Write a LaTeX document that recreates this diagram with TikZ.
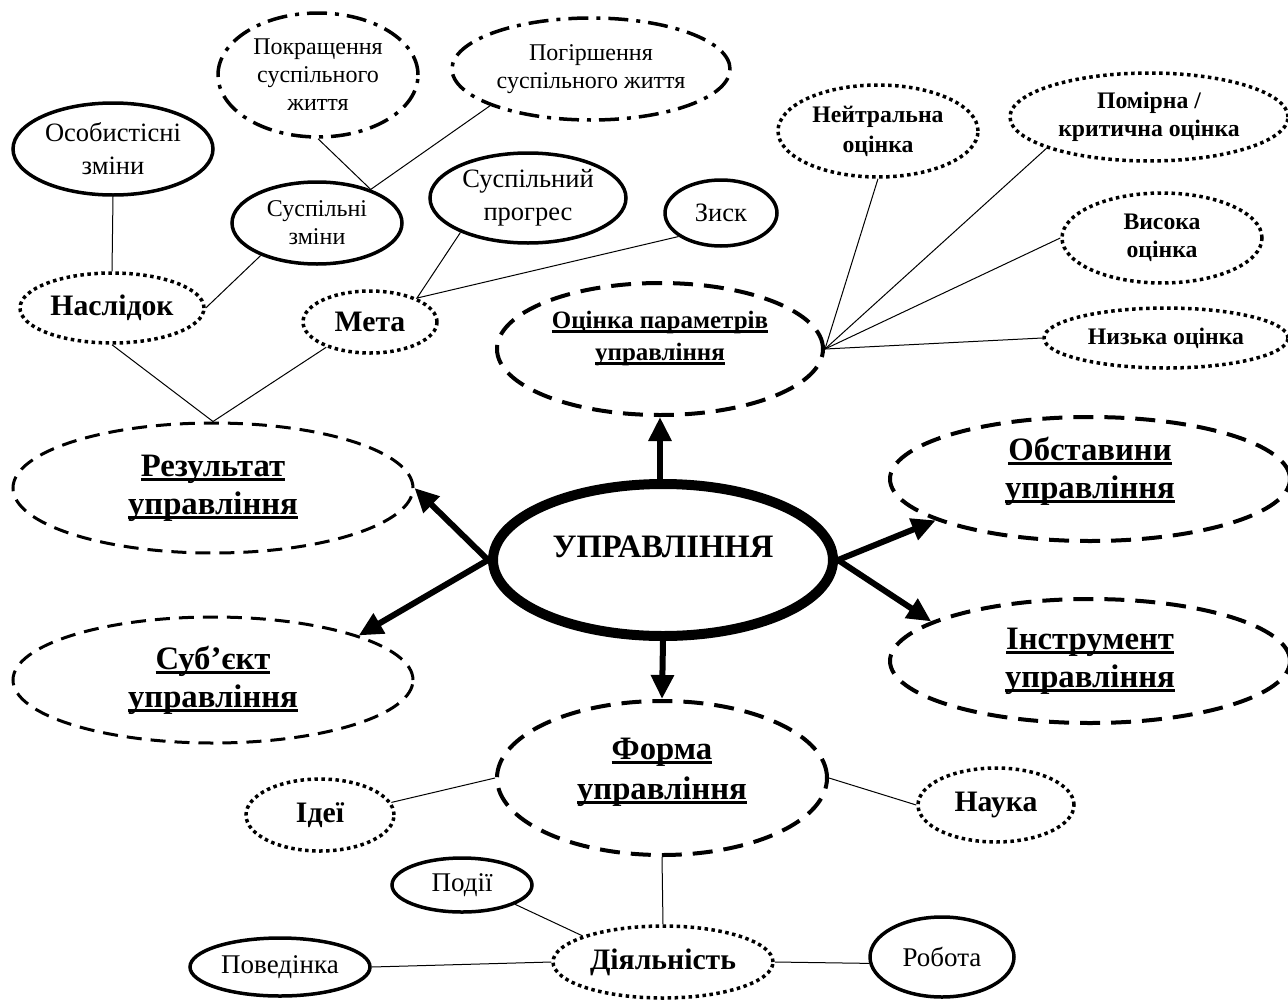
\documentclass[tikz,border=0pt]{standalone}
\usepackage{fontspec}
\setmainfont{Liberation Serif}
\usetikzlibrary{shapes.geometric,arrows.meta}

% thick underline that runs through the descenders
\newcommand\undl[1]{\leavevmode\setbox0\hbox{#1}\rlap{\rule[-0.16em]{\wd0}{0.1em}}\box0}

\tikzset{
  oval/.style={ellipse, draw, inner sep=0pt, align=center},
  sz/.style 2 args={minimum width=#1pt, minimum height=#2pt},
  solidoval/.style={oval, line width=3.5pt},
  dotoval/.style={oval, line width=3.5pt, dash pattern=on 3.5pt off 3.5pt},
  dashdotoval/.style={oval, line width=3.5pt, dash pattern=on 20pt off 8pt on 4pt off 8pt},
  dashoval/.style={oval, line width=3pt, dash pattern=on 15pt off 9pt},
  heavydash/.style={oval, line width=4pt, dash pattern=on 20pt off 11pt},
  coreoval/.style={oval, line width=10pt},
  regsmall/.style={font=\fontsize{24}{28}\selectfont},
  reg/.style={font=\fontsize{26.5}{33}\selectfont},
  regbottom/.style={font=\fontsize{27}{33}\selectfont},
  boldmid/.style={font=\fontsize{29.7}{36}\selectfont\bfseries},
  boldsmall/.style={font=\fontsize{23.7}{28}\selectfont\bfseries},
  boldbig/.style={font=\fontsize{32.7}{38}\selectfont\bfseries},
  lbl/.style={align=center},
  arr/.style={line width=6pt, -{Triangle[length=24pt,width=22pt]}},
  conn/.style={line width=1pt},
}

\begin{document}
\begin{tikzpicture}[x=1pt,y=-1pt]
\useasboundingbox (0,0) rectangle (1288,999);

% core and main branches
\node[coreoval, sz={340}{152}, label={[lbl, boldbig, yshift=13pt]center:УПРАВЛІННЯ}] (c) at (663,560) {};
\node[heavydash, sz={326}{132}, label={[lbl, font=\fontsize{25}{32}\selectfont\bfseries, yshift=10pt]center:\undl{Оцінка параметрів}\\\undl{управління}}] (ocinka) at (660,349) {};
\node[dashoval, sz={400}{130}, boldbig] (res) at (213,488) {\undl{Результат}\\\undl{управління}};
\node[dashoval, sz={400}{126}, boldbig] (subj) at (213,680) {\undl{Суб’єкт}\\\undl{управління}};
\node[heavydash, sz={400}{124}, label={[lbl, boldbig, yshift=8pt]center:\undl{Обставини}\\\undl{управління}}] (obst) at (1090,479) {};
\node[heavydash, sz={400}{124}, boldbig] (instr) at (1090,661) {\undl{Інструмент}\\\undl{управління}};
\node[heavydash, sz={330}{154}, label={[lbl, font=\fontsize{32.7}{40}\selectfont\bfseries, yshift=6pt]center:\undl{Форма}\\\undl{управління}}] (forma) at (662,778) {};

% form branch
\node[dotoval, sz={148}{72}, boldmid] (ideji) at (320,815) {Ідеї};
\node[dotoval, sz={156}{74}, boldmid] (nauka) at (996,805) {Наука};
\node[dotoval, sz={220}{72}, boldmid] (dij) at (663,962) {Діяльність};
\node[solidoval, sz={140}{54}, regbottom] (podii) at (462,885) {Події};
\node[solidoval, sz={180}{58}, regbottom] (povod) at (280,967) {Поведінка};
\node[solidoval, sz={144}{80}, regbottom] (robota) at (942,957) {Робота};

% result branch
\node[dotoval, sz={184}{70}, boldmid] (nasl) at (112,308) {Наслідок};
\node[dotoval, sz={134}{62}, boldmid] (meta) at (370,322) {Мета};
\node[solidoval, sz={200}{92}, reg] (osob) at (113,149) {Особистісні\\зміни};
\node[solidoval, sz={170}{82}, regsmall] (szm) at (317,223) {Суспільні\\зміни};
\node[dashdotoval, sz={200}{124}, regsmall] (pokr) at (318,75) {Покращення\\суспільного\\життя};
\node[dashdotoval, sz={278}{102}, regsmall] (pogir) at (591,69) {Погіршення\\суспільного життя};
\node[solidoval, sz={196}{90}, reg] (sp) at (528,198) {Суспільний\\прогрес};
\node[solidoval, sz={112}{66}, reg] (zisk) at (721,213) {Зиск};

% evaluation branch
\node[dotoval, sz={200}{92}, boldsmall, font=\fontsize{23.7}{30}\selectfont\bfseries] (neit) at (878,131) {Нейтральна\\оцінка};
\node[dotoval, sz={278}{88}, boldsmall] (pomir) at (1149,117) {Помірна /\\критична оцінка};
\node[dotoval, sz={200}{90}, boldsmall] (vys) at (1162,238) {Висока\\оцінка};
\node[dotoval, sz={244}{60}, boldsmall] (nyz) at (1166,338) {Низька оцінка};

% arrows from the core
\draw[arr] (ocinka.south |- c.north) -- (ocinka.south);
\draw[arr] (c.west) -- (res.east);
\draw[arr] (c.west) -- (subj.17);
\draw[arr] (c.east) -- (obst.195);
\draw[arr] (c.east) -- (instr.166);
\draw[arr] (c.south) -- (forma.north);

% thin links
\draw[conn] (nasl.south) -- (res.north) -- (meta.210);
\draw[conn] (osob.south) -- (nasl.north);
\draw[conn] (szm.210) -- (nasl.east);
\draw[conn] (pokr.south) -- (szm.32) -- (pogir.200);
\draw[conn] (sp.207) -- (meta.27) -- (zisk.209);
\draw[conn] (neit.south) -- (ocinka.east);
\draw[conn] (pomir.197) -- (ocinka.east);
\draw[conn] (vys.west) -- (ocinka.east);
\draw[conn] (nyz.west) -- (ocinka.east);
\draw[conn] (ideji.10) -- (forma.west);
\draw[conn] (forma.east) -- (nauka.west);
\draw[conn] (forma.south) -- (dij.north);
\draw[conn] (podii.-20) -- (dij.162);
\draw[conn] (povod.east) -- (dij.west);
\draw[conn] (dij.east) -- (robota.185);
\end{tikzpicture}
\end{document}
